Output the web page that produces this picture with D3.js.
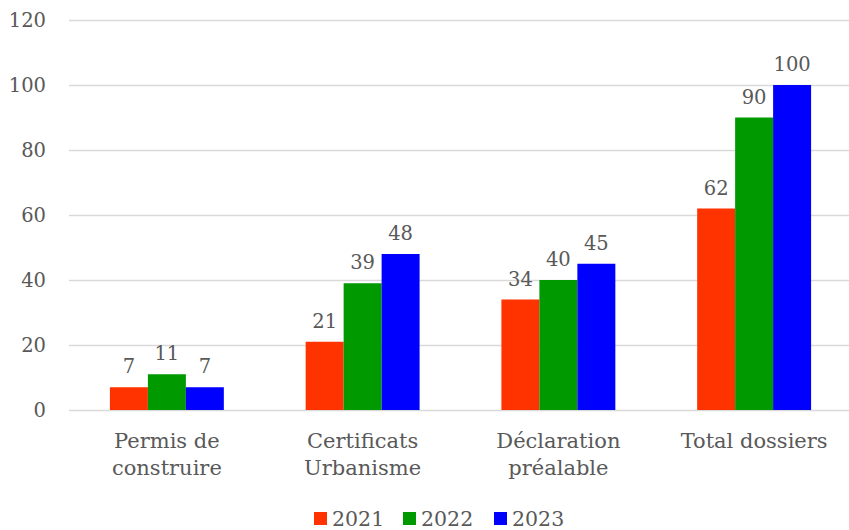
<!DOCTYPE html>
<html>
<head>
<meta charset="utf-8">
<script src="https://cdn.jsdelivr.net/npm/d3@7"></script>
<style>
  body { margin: 0; background: #fff; }
  svg { display: block; }
  text { font-family: "DejaVu Serif", "Liberation Serif", serif; fill: #595959; }
</style>
</head>
<body>
<svg id="chart" width="849" height="530"></svg>
<script>
const categories = [["Permis de", "construire"], ["Certificats", "Urbanisme"], ["Déclaration", "préalable"], ["Total dossiers"]];
const seriesNames = ["2021", "2022", "2023"];
const values2021 = [7, 21, 34, 62];
const values2022 = [11, 39, 40, 90];
const values2023 = [7, 48, 45, 100];
const seriesColors = ["#FF3300", "#009900", "#0000FF"];
const yTicks = [0, 20, 40, 60, 80, 100, 120];

(function () {
const seriesValues = [values2021, values2022, values2023];
const svg = d3.select("#chart");

const mLeft = 69, mRight = 852, mTop = 20, mBottom = 410;

const x0 = d3.scaleBand().domain(d3.range(categories.length)).range([mLeft, mRight])
  .paddingInner(0.418).paddingOuter(0.209);
const x1 = d3.scaleBand().domain(d3.range(seriesNames.length)).range([0, x0.bandwidth()]);
const y = d3.scaleLinear().domain([0, 120]).range([mBottom, mTop]);

// gridlines
const yAxis = d3.axisLeft(y).tickValues(yTicks).tickSize(-(849 - mLeft)).tickFormat(d3.format("d")).tickPadding(23);
const gy = svg.append("g").attr("transform", `translate(${mLeft},0)`).call(yAxis);
gy.select(".domain").remove();
gy.selectAll(".tick line").attr("stroke", "#d9d9d9").attr("stroke-width", 1.3);
gy.selectAll(".tick text").style("font-size", "19.5px").attr("fill", "#595959").attr("dy", "0.33em");

// bars
const groups = svg.append("g").selectAll("g").data(categories).join("g")
  .attr("transform", (d, i) => `translate(${x0(i)},0)`);
groups.each(function(cat, ci) {
  const g = d3.select(this);
  seriesValues.forEach((vals, si) => {
    const v = vals[ci];
    g.append("rect")
      .attr("x", x1(si)).attr("width", x1.bandwidth())
      .attr("y", y(v)).attr("height", y(0) - y(v))
      .attr("fill", seriesColors[si]);
    g.append("text")
      .attr("x", x1(si) + x1.bandwidth() / 2)
      .attr("y", y(v) - 14)
      .attr("text-anchor", "middle")
      .style("font-size", "19.5px")
      .text(v);
  });
});

// x labels
const xl = svg.append("g");
categories.forEach((lines, i) => {
  const cx = x0(i) + x0.bandwidth() / 2;
  const t = xl.append("text").attr("text-anchor", "middle").style("font-size", "21px")
    .attr("x", cx).attr("y", 448);
  lines.forEach((ln, j) => t.append("tspan").attr("x", cx).attr("dy", j === 0 ? 0 : 27).text(ln));
});

// legend
const legendX = [314, 403, 494];
const lg = svg.append("g");
seriesNames.forEach((s, i) => {
  lg.append("rect").attr("x", legendX[i]).attr("y", 512).attr("width", 13).attr("height", 13).attr("fill", seriesColors[i]);
  lg.append("text").attr("x", legendX[i] + 18).attr("y", 526).style("font-size", "20.5px").text(s);
});
})();
</script>
</body>
</html>
